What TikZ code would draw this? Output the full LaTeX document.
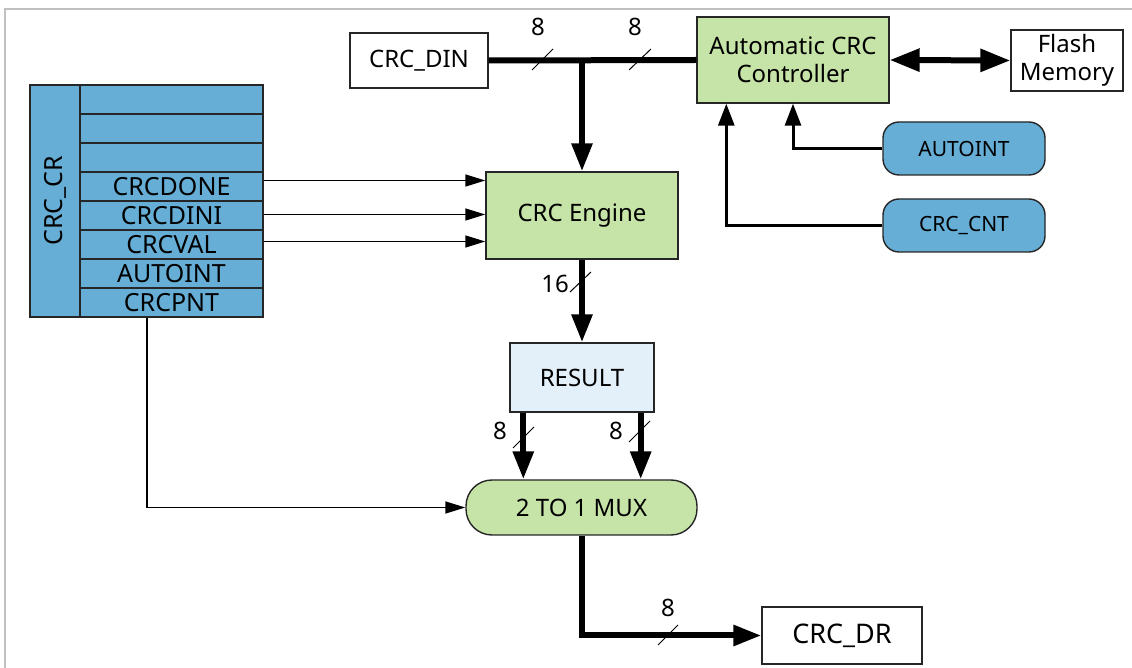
\documentclass[tikz,border=0pt]{standalone}
\usepackage{fontspec}
\setmainfont{Noto Sans}
\usetikzlibrary{arrows.meta,calc}
\definecolor{boxgreen}{HTML}{C6E4A7}
\definecolor{regblue}{HTML}{66AED6}
\definecolor{resblue}{HTML}{E3F0F9}
\definecolor{framegray}{HTML}{C0C0C0}
\tikzset{
  x=0.5pt,y=-0.5pt,
  every node/.style={font=\fontsize{12}{14}\selectfont},
  blk/.style={draw=black!85,line width=0.7pt,inner sep=0pt,align=center},
  greenbox/.style={blk,fill=boxgreen},
  whitebox/.style={blk,fill=white},
  regrow/.style={blk,fill=regblue,minimum width=91.5pt,minimum height=14.5pt,font=\fontsize{12.5}{14}\selectfont},
  pill/.style={blk,fill=regblue,rounded corners=8pt,minimum width=81pt,minimum height=26.5pt,font=\fontsize{10.5}{12}\selectfont},
  bus/.style={line width=3pt},
  bustip/.style={-{Triangle[length=14pt,width=10pt]}},
  med/.style={line width=1.5pt,-{Triangle[length=11pt,width=8pt]}},
  sig/.style={line width=0.75pt,-{Triangle[length=10pt,width=6pt]}},
  slash/.style={line width=0.5pt},
  lbl/.style={inner sep=0pt}
}
\begin{document}
\begin{tikzpicture}
\useasboundingbox (0,0) rectangle (1132,668);
% frame
\draw[framegray,line width=1pt] (4,9) -- (1132,9);
\draw[framegray,line width=1pt] (5,9) -- (5,668);

% nodes
\node[whitebox,minimum width=69pt,minimum height=27.5pt] (din) at (419,60.5) {CRC\_DIN};
\node[greenbox,minimum width=96pt,minimum height=43pt] (acc) at (793,60) {Automatic CRC\\Controller};
\node[whitebox,minimum width=56pt,minimum height=30.5pt] (flash) at (1067,60.5) {Flash\\Memory};
\node[pill] (autoint) at (964,148.5) {AUTOINT};
\node[pill] (crccnt) at (964,225.5) {CRC\_CNT};
\node[greenbox,minimum width=96pt,minimum height=43.5pt] (eng) at (582,215.5) {CRC Engine};
\node[blk,fill=resblue,minimum width=72pt,minimum height=34.5pt] (result) at (582,377.5) {RESULT};
\node[greenbox,rounded corners=13pt,minimum width=115.5pt,minimum height=27.5pt] (mux) at (581.5,507.5) {2 TO 1 MUX};
\node[whitebox,minimum width=80pt,minimum height=28.5pt,font=\fontsize{13.5}{15}\selectfont] (dr) at (842,635.5) {CRC\_DR};

% register CRC_CR
\node[blk,fill=regblue,minimum width=116pt,minimum height=25pt,rotate=90,font=\fontsize{12.5}{14}\selectfont] (crccr) at (55,201) {CRC\_CR};
\node[regrow] (r1) at (171.5,99.5) {};
\node[regrow] (r2) at (171.5,128.5) {};
\node[regrow] (r3) at (171.5,157.5) {};
\node[regrow] (r4) at (171.5,186.5) {CRCDONE};
\node[regrow] (r5) at (171.5,215.5) {CRCDINI};
\node[regrow] (r6) at (171.5,244.5) {CRCVAL};
\node[regrow] (r7) at (171.5,273.5) {AUTOINT};
\node[regrow] (r8) at (171.5,302.5) {CRCPNT};

% data bus
\coordinate (j) at (eng.north |- din.east);
\draw[bus] (din.east) -- (acc.west);
\draw[bus,bustip] (j) -- (eng.north);
\draw[slash] (532,70) -- (553,49);
\draw[slash] (629,70) -- (651,49);
\node[lbl] (l8a) at (538,27) {8};
\node[lbl] (l8b) at (635,27) {8};

% flash link
\draw[bus,{Triangle[length=15pt,width=11pt]}-{Triangle[length=15pt,width=11pt]}] (acc.east) -- (flash.west);

% controller inputs
\draw[med] (autoint.west) -| (acc.south);
\draw[med] (crccnt.west) -| ([xshift=15pt]acc.south west);

% register to engine
\draw[sig] ([yshift=3pt]r4.east) -- ([yshift=3pt]r4.east -| eng.west);
\draw[sig] ([yshift=0.5pt]r5.east) -- ([yshift=0.5pt]r5.east -| eng.west);
\draw[sig] ([yshift=1.5pt]r6.east) -- ([yshift=1.5pt]r6.east -| eng.west);

% CRCPNT to mux
\draw[sig] ([xshift=-12.25pt]r8.south) |- (mux.west);

% engine to result
\draw[bus,bustip] (eng.south) -- (result.north);
\draw[slash] (570,292) -- (591,272);
\node[lbl] (l16) at (555,284) {16};

% result to mux
\draw[bus,bustip] ([xshift=7pt]result.south west) -- ([xshift=7pt]result.south west |- mux.north);
\draw[bus,bustip] ([xshift=-7pt]result.south east) -- ([xshift=-7pt]result.south east |- mux.north);
\draw[slash] (513,448) -- (534,427);
\draw[slash] (629,442) -- (650,421);
\node[lbl] (l8c) at (500,431) {8};
\node[lbl] (l8d) at (616,431) {8};

% mux to CRC_DR
\draw[bus,bustip] (mux.south) |- (dr.west);
\draw[slash] (658,645) -- (678,625);
\node[lbl] (l8e) at (668,608) {8};
\end{tikzpicture}
\end{document}
